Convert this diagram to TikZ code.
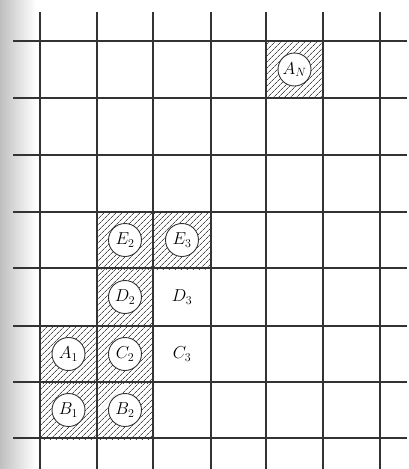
\documentclass[tikz,border=0pt]{standalone}
\usetikzlibrary{patterns.meta}
\begin{document}
\begin{tikzpicture}[x=1pt,y=-1pt,
  gridline/.style={line width=1.7pt,draw=black!80},
  hatchcell/.style={pattern={Lines[angle=45,distance=4pt,line width=0.8pt]},pattern color=black!70},
  token/.style={circle,draw=black!80,line width=0.9pt,fill=white,minimum size=33pt,inner sep=0pt,font=\fontsize{17}{19}\selectfont},
  plain/.style={inner sep=0pt,font=\fontsize{17}{19}\selectfont}]
\useasboundingbox (0,0) rectangle (408,469);
\shade[left color=black!25,right color=white] (0,0) rectangle (36,469);
% hatched cells (x0,y0)
\foreach \x/\y in {266/41,97/212,153/212,97/268,40/326,97/326,40/382,97/382}
  \fill[hatchcell] (\x,\y) rectangle ++(57,57);
% grid
\foreach \x in {40,97,153,211,266,323,380}
  \draw[gridline] (\x,12) -- (\x,469);
\foreach \y in {41,98,155,212,268,326,382,438}
  \draw[gridline] (13,\y) -- (407,\y);
% tokens
\node[token] (an) at (294.5,69.5) {$A_N$};
\node[token] (e2) at (125,240) {$E_2$};
\node[token] (e3) at (182,240) {$E_3$};
\node[token] (d2) at (125,297) {$D_2$};
\node[plain] (d3) at (182,297) {$D_3$};
\node[token] (a1) at (68.5,354) {$A_1$};
\node[token] (c2) at (125,354) {$C_2$};
\node[plain] (c3) at (182,354) {$C_3$};
\node[token] (b1) at (68.5,410) {$B_1$};
\node[token] (b2) at (125,410) {$B_2$};
\end{tikzpicture}
\end{document}
